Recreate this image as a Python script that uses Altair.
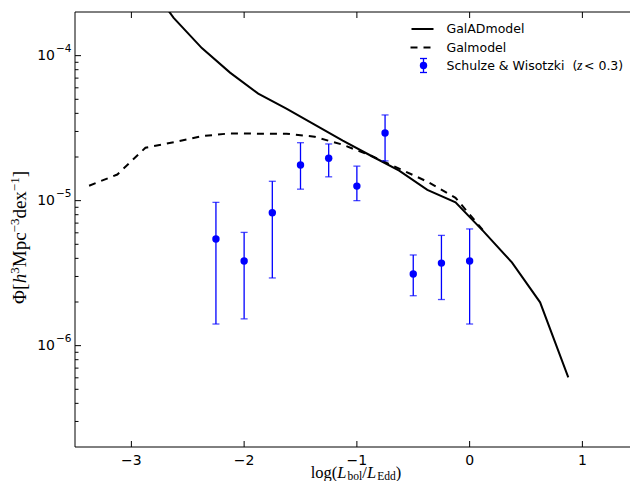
import altair as alt
import pandas as pd

# plot area: page x 75..630 (the reference continues to 638, cropped here), y 12..447
W, H = 555, 435
X_PER_UNIT = 112.75

# ---- data ----
galad_x = [-2.875, -2.625, -2.375, -2.125, -1.875, -1.625, -1.375, -1.125,
           -0.875, -0.625, -0.375, -0.125, 0.125, 0.375, 0.625, 0.875]
galad_phi = [3.39e-4, 1.82e-4, 1.127e-4, 7.64e-5, 5.47e-5, 4.31e-5, 3.34e-5, 2.59e-5,
             2.04e-5, 1.61e-5, 1.186e-5, 9.73e-6, 6.11e-6, 3.75e-6, 1.99e-6, 6.04e-7]

gal_x = [-3.375, -3.125, -2.875, -2.625, -2.375, -2.125, -1.875, -1.625,
         -1.375, -1.125, -0.875, -0.625, -0.375, -0.125, 0.125]
gal_phi = [1.268e-5, 1.514e-5, 2.317e-5, 2.53e-5, 2.786e-5, 2.91e-5, 2.897e-5, 2.897e-5,
           2.76e-5, 2.43e-5, 2.04e-5, 1.663e-5, 1.352e-5, 1.047e-5, 6.17e-6]

obs_x = [-2.25, -2.0, -1.75, -1.5, -1.25, -1.0, -0.75, -0.5, -0.25, 0.0]
obs_phi = [5.44e-6, 3.84e-6, 8.26e-6, 1.76e-5, 1.96e-5, 1.26e-5, 2.93e-5, 3.12e-6, 3.71e-6, 3.84e-6]
obs_hi = [9.73e-6, 6.04e-6, 1.36e-5, 2.51e-5, 2.46e-5, 1.73e-5, 3.90e-5, 4.22e-6, 5.76e-6, 6.38e-6]
obs_lo = [1.41e-6, 1.53e-6, 2.93e-6, 1.20e-5, 1.46e-5, 1.0e-5, 1.88e-5, 2.21e-6, 2.08e-6, 1.41e-6]

x_ticks = [-3, -2, -1, 0, 1]
x_tick_labels = ["\u22123", "\u22122", "\u22121", "0", "1"]
y_major = [1e-6, 1e-5, 1e-4]
y_major_base = ["10", "10", "10"]
y_major_exp = ["\u22126", "\u22125", "\u22124"]
y_minor = [m * 10.0 ** e for e in (-7, -6, -5) for m in range(2, 10)]
y_minor = [v for v in y_minor if v > 2e-7]

legend_labels = ["GalADmodel", "Galmodel", "Schulze & Wisotzki \u00a0(", "z", "< 0.3)"]
x_title_parts = ["log(", "L", "bol", "/", "L", "Edd", ")"]
y_title_parts = ["\u03a6[", "h", "3", "Mpc", "\u22123", "dex", "\u22121", "]"]

BLUE = "#0000ff"

# ---- scales ----
xs = alt.Scale(domain=[-3.5, -3.5 + W / X_PER_UNIT], nice=False, zero=False)
ys = alt.Scale(type="log", domain=[2e-7, 2e-4], nice=False)

galad = pd.DataFrame({"x": galad_x, "phi": galad_phi})
gal = pd.DataFrame({"x": gal_x, "phi": gal_phi})
obs = pd.DataFrame({"x": obs_x, "phi": obs_phi, "hi": obs_hi, "lo": obs_lo})

X = lambda f: alt.X(f, scale=xs, axis=None)
Y = lambda f: alt.Y(f, scale=ys, axis=None)

line_galad = alt.Chart(galad).mark_line(color="black", strokeWidth=2, clip=True).encode(
    x=X("x:Q"), y=Y("phi:Q"))
line_gal = alt.Chart(gal).mark_line(color="black", strokeWidth=2, strokeDash=[7, 6], clip=True).encode(
    x=X("x:Q"), y=Y("phi:Q"))
err = alt.Chart(obs).mark_rule(color=BLUE, strokeWidth=1.3).encode(
    x=X("x:Q"), y=Y("lo:Q"), y2="hi:Q")
cap_hi = alt.Chart(obs).mark_tick(color=BLUE, orient="horizontal", size=7, thickness=1.3).encode(
    x=X("x:Q"), y=Y("hi:Q"))
cap_lo = alt.Chart(obs).mark_tick(color=BLUE, orient="horizontal", size=7, thickness=1.3).encode(
    x=X("x:Q"), y=Y("lo:Q"))
pts = alt.Chart(obs).mark_circle(color=BLUE, opacity=1, size=55).encode(
    x=X("x:Q"), y=Y("phi:Q"))

one = pd.DataFrame({"a": [0]})

# frame (left, top, bottom; right side lies beyond the cropped edge)
frame = [
    alt.Chart(one).mark_rule(color="black", strokeWidth=1).encode(
        x=alt.value(0), y=alt.value(0), y2=alt.value(H)),
    alt.Chart(one).mark_rule(color="black", strokeWidth=1).encode(
        x=alt.value(0), x2=alt.value(W), y=alt.value(0)),
    alt.Chart(one).mark_rule(color="black", strokeWidth=1).encode(
        x=alt.value(0), x2=alt.value(W), y=alt.value(H)),
]

# inward ticks
xt = pd.DataFrame({"v": x_ticks, "lab": x_tick_labels})
ymaj = pd.DataFrame({"v": y_major, "base": y_major_base, "exp": y_major_exp})
ymin = pd.DataFrame({"v": y_minor})
ticks = [
    alt.Chart(xt).mark_rule(color="black", strokeWidth=1).encode(
        x=X("v:Q"), y=alt.value(H - 6), y2=alt.value(H)),
    alt.Chart(xt).mark_rule(color="black", strokeWidth=1).encode(
        x=X("v:Q"), y=alt.value(0), y2=alt.value(6)),
    alt.Chart(ymaj).mark_rule(color="black", strokeWidth=1).encode(
        y=Y("v:Q"), x=alt.value(0), x2=alt.value(6)),
    alt.Chart(ymin).mark_rule(color="black", strokeWidth=1).encode(
        y=Y("v:Q"), x=alt.value(0), x2=alt.value(3.5)),
]

# tick labels
tick_labels = [
    alt.Chart(xt).mark_text(align="center", baseline="middle", font="DejaVu Sans",
                            fontSize=14, color="black").encode(
        x=X("v:Q"), y=alt.value(H + 13.5), text="lab:N"),
    alt.Chart(ymaj).mark_text(align="right", baseline="middle", font="DejaVu Sans",
                              fontSize=14, color="black").encode(
        y=Y("v:Q"), x=alt.value(-20), text="base:N"),
    alt.Chart(ymaj).mark_text(align="left", baseline="middle", font="DejaVu Sans",
                              fontSize=10.5, color="black", dy=-6.5).encode(
        y=Y("v:Q"), x=alt.value(-19), text="exp:N"),
]

# legend (drawn by hand, top right)
lx0, lx1, ltx = 336.5, 358.5, 371.5
leg = [
    alt.Chart(one).mark_rule(color="black", strokeWidth=2).encode(
        x=alt.value(lx0), x2=alt.value(lx1), y=alt.value(17)),
    alt.Chart(one).mark_rule(color="black", strokeWidth=2, strokeDash=[7, 6]).encode(
        x=alt.value(lx0 - 1), x2=alt.value(lx1 + 1), y=alt.value(35.5)),
    alt.Chart(one).mark_rule(color=BLUE, strokeWidth=1.3).encode(
        x=alt.value(348.5), y=alt.value(46.5), y2=alt.value(60.5)),
    alt.Chart(one).mark_rule(color=BLUE, strokeWidth=1.3).encode(
        x=alt.value(345), x2=alt.value(352), y=alt.value(46.5)),
    alt.Chart(one).mark_rule(color=BLUE, strokeWidth=1.3).encode(
        x=alt.value(345), x2=alt.value(352), y=alt.value(60.5)),
    alt.Chart(one).mark_circle(color=BLUE, opacity=1, size=55).encode(
        x=alt.value(348.5), y=alt.value(53.5)),
]
lts = dict(align="left", baseline="middle", font="DejaVu Sans", fontSize=12.5, color="black")
leg += [
    alt.Chart(one).mark_text(text=legend_labels[0], **lts).encode(x=alt.value(ltx), y=alt.value(17)),
    alt.Chart(one).mark_text(text=legend_labels[1], **lts).encode(x=alt.value(ltx), y=alt.value(35.5)),
    alt.Chart(one).mark_text(text=legend_labels[2], **lts).encode(x=alt.value(ltx), y=alt.value(54)),
    alt.Chart(one).mark_text(text=legend_labels[3], align="left", baseline="middle",
                             font="Liberation Serif", fontStyle="italic", fontSize=14,
                             color="black").encode(x=alt.value(502), y=alt.value(54)),
    alt.Chart(one).mark_text(text=legend_labels[4], **lts).encode(x=alt.value(509), y=alt.value(54)),
]

# x title with subscripts (italic L as in the reference's math text)
xsz = [16.5, 16.5, 11.5, 16.5, 16.5, 11.5, 16.5]
xem = [1.611, 0.62, 1.278, 0.3, 0.62, 1.611, 0.333]
xsh = [0, 0, 2, 0, 0, 2, 0]
xst = ["normal", "italic", "normal", "normal", "italic", "normal", "normal"]
xw = [s * e for s, e in zip(xsz, xem)]
cur = (564 / 2) - sum(xw) / 2 - 1
xt_layers = []
for txt, s, w, sh, st in zip(x_title_parts, xsz, xw, xsh, xst):
    xt_layers.append(
        alt.Chart(one).mark_text(text=txt, align="left", baseline="alphabetic",
                                 font="Liberation Serif", fontSize=s, fontStyle=st,
                                 color="black").encode(
            x=alt.value(cur), y=alt.value(H + 30.5 + sh)))
    cur += w

# y title (rotated) with superscripts
ysz = [19, 19, 13, 19, 13, 19, 13, 19]
yem = [1.093, 0.5, 0.5, 1.833, 1.064, 1.444, 1.064, 0.333]
yst = ["normal", "italic", "normal", "normal", "normal", "normal", "normal", "normal"]
ysh = [0, 0, -7, 0, -7, 0, -7, 0]
yw = [s * e for s, e in zip(ysz, yem)]
cur = (H / 2 + 8) + sum(yw) / 2
yt_layers = []
for txt, s, w, st, sh in zip(y_title_parts, ysz, yw, yst, ysh):
    yt_layers.append(
        alt.Chart(one).mark_text(text=txt, align="left", baseline="alphabetic", angle=270,
                                 font="Liberation Serif", fontSize=s, fontStyle=st,
                                 color="black").encode(
            x=alt.value(-49 + sh), y=alt.value(cur)))
    cur -= w

chart = alt.layer(line_galad, line_gal, err, cap_hi, cap_lo, pts, *frame, *ticks, *tick_labels,
                  *leg, *xt_layers, *yt_layers).properties(
    width=W, height=H,
    padding={"left": 67, "top": 4, "right": 0, "bottom": 34},
    autosize=alt.AutoSizeParams(type="none"),
    background="white",
).configure_view(stroke=None)

chart.save("out.html", embed_options={"renderer": "svg", "actions": False})
